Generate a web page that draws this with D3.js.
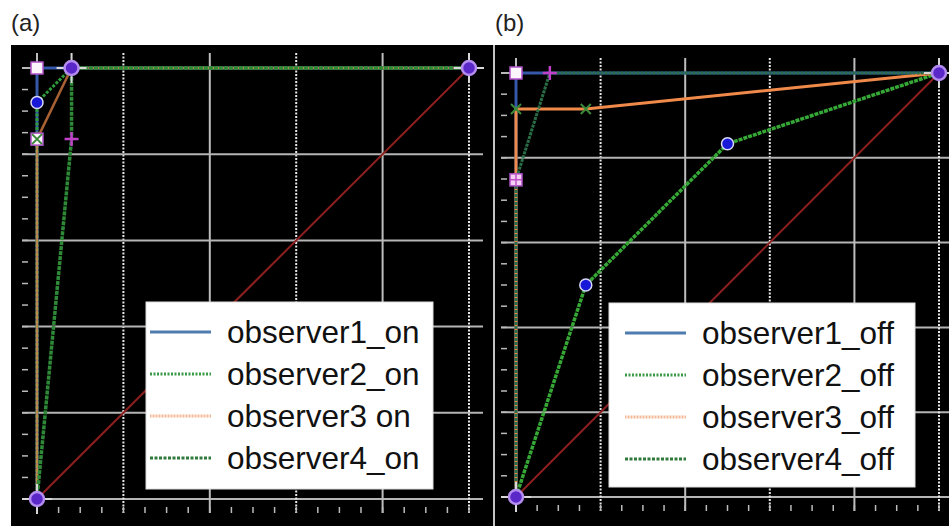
<!DOCTYPE html>
<html>
<head>
<meta charset="utf-8">
<script src="https://cdn.jsdelivr.net/npm/d3@7"></script>
<style>
  body { margin: 0; background: #fff; }
  text { font-family: "Liberation Sans", Arial, sans-serif; }
</style>
</head>
<body>
<div id="chart"></div>
<script>
// ROC points (false positive rate, true positive rate)
var gridTicks = [0, 0.2, 0.4, 0.6, 0.8, 1];
var minorTicks = d3.range(0, 1.0001, 0.05);

// panel (a) - "on"
var obs1OnFpr = [0, 0, 0.08, 1],    obs1OnTpr = [0, 1, 1, 1];
var obs2OnFpr = [0, 0, 0.08, 1],    obs2OnTpr = [0, 0.92, 1, 1];
var obs3OnFpr = [0, 0, 0.08, 1],    obs3OnTpr = [0, 0.835, 1, 1];
var obs4OnFpr = [0, 0.08, 0.08, 1], obs4OnTpr = [0, 0.835, 1, 1];
var onLabels = ["observer1_on", "observer2_on", "observer3 on", "observer4_on"];

// panel (b) - "off"
var obs1OffFpr = [0, 0, 0.08, 1],      obs1OffTpr = [0, 1, 1, 1];
var obs2OffFpr = [0, 0.165, 0.5, 1],   obs2OffTpr = [0, 0.5, 0.833, 1];
var obs3OffFpr = [0, 0, 0.165, 1],     obs3OffTpr = [0, 0.915, 0.915, 1];
var obs4OffFpr = [0, 0, 0.08, 1],      obs4OffTpr = [0, 0.748, 1, 1];
var offLabels = ["observer1_off", "observer2_off", "observer3_off", "observer4_off"];

var chanceFpr = [0, 1], chanceTpr = [0, 1];

function zip(xs, ys) { return xs.map(function(x, i) { return {x: x, y: ys[i]}; }); }

var svg = d3.select("#chart").append("svg")
    .attr("width", 949).attr("height", 526);

svg.append("text").attr("x", 11).attr("y", 31).attr("font-size", 24).attr("fill", "#222").text("(a)");
svg.append("text").attr("x", 495).attr("y", 31).attr("font-size", 24).attr("fill", "#222").text("(b)");

function drawPanel(prop, series, labels, endMarkers) {
    svg.append("rect")
        .attr("x", prop.bg[0]).attr("y", prop.bg[1])
        .attr("width", prop.bg[2]).attr("height", prop.bg[3])
        .attr("fill", "#000");

    var x = d3.scaleLinear().domain([0, 1]).range(prop.xr);
    var y = d3.scaleLinear().domain([0, 1]).range(prop.yr);
    var g = svg.append("g");

    // grid
    gridTicks.forEach(function(t, i) {
        g.append("line")
            .attr("x1", prop.xr[0] - 15).attr("x2", prop.xr[1] + 14)
            .attr("y1", y(t)).attr("y2", y(t))
            .attr("stroke", "#b5b5b5").attr("stroke-width", 2);
        if (t > 0) {
            g.append("line")
                .attr("x1", x(t)).attr("x2", x(t))
                .attr("y1", prop.yr[1] - 15).attr("y2", prop.yr[0] + 14)
                .attr("stroke", i % 2 == 0 ? "#bdbdbd" : "#e8e8e8")
                .attr("stroke-width", 2)
                .attr("stroke-dasharray", i % 2 == 0 ? null : "2,1.5");
        }
    });
    g.append("line")
        .attr("x1", x(0)).attr("x2", x(0))
        .attr("y1", prop.yr[1] - 15).attr("y2", prop.yr[0] + 14)
        .attr("stroke", "#bdbdbd").attr("stroke-width", 2);

    // minor ticks
    minorTicks.forEach(function(t) {
        g.append("line")
            .attr("x1", prop.xr[0] - 15).attr("x2", prop.xr[0] - 9)
            .attr("y1", y(t)).attr("y2", y(t))
            .attr("stroke", "#bbb").attr("stroke-width", 1.5);
        g.append("line")
            .attr("x1", x(t)).attr("x2", x(t))
            .attr("y1", prop.yr[0] + 8).attr("y2", prop.yr[0] + 14)
            .attr("stroke", "#bbb").attr("stroke-width", 1.5);
    });

    var line = d3.line().x(function(d) { return x(d.x); }).y(function(d) { return y(d.y); });

    // chance diagonal
    g.append("path").datum(zip(chanceFpr, chanceTpr))
        .attr("d", line).attr("fill", "none")
        .attr("stroke", "#8e1f1f").attr("stroke-width", 2);

    series.forEach(function(s) {
        g.append("path").datum(s.pts)
            .attr("d", line).attr("fill", "none")
            .attr("stroke", s.color).attr("stroke-width", s.width)
            .attr("stroke-opacity", s.opacity || 1)
            .attr("stroke-dasharray", s.dash);
    });

    // markers
    function marker(type, px, py) {
        if (type == "square" || type == "xsquare" || type == "pinksquare") {
            g.append("rect").attr("x", px - 6).attr("y", py - 6).attr("width", 12).attr("height", 12)
                .attr("fill", type == "pinksquare" ? "#f4d0f4" : "#fbf4fb")
                .attr("stroke", "#b050c8").attr("stroke-width", 1.5);
            if (type == "pinksquare") {
                g.append("path").attr("d", "M" + (px - 6) + "," + py + "h12M" + px + "," + (py - 6) + "v12")
                    .attr("stroke", "#c050c8").attr("stroke-width", 1.5);
            }
        }
        if (type == "xsquare" || type == "x") {
            g.append("path").attr("d", "M" + (px - 5) + "," + (py - 5) + "l10,10M" + (px + 5) + "," + (py - 5) + "l-10,10")
                .attr("stroke", "#3a8a3a").attr("stroke-width", 2);
        }
        if (type == "circle") {
            g.append("circle").attr("cx", px).attr("cy", py).attr("r", 6)
                .attr("fill", "#1818d8").attr("stroke", "#d8d8f8").attr("stroke-width", 1.5);
        }
        if (type == "plus") {
            g.append("path").attr("d", "M" + (px - 7) + "," + py + "h14M" + px + "," + (py - 7) + "v14")
                .attr("stroke", "#c040c8").attr("stroke-width", 2.5);
        }
        if (type == "purple") {
            g.append("path").attr("d", "M" + (px - 15) + "," + py + "h30M" + px + "," + (py - 15) + "v30")
                .attr("stroke", "#d8d8d8").attr("stroke-width", 2);
            g.append("circle").attr("cx", px).attr("cy", py).attr("r", 7)
                .attr("fill", "#5a28c8").attr("stroke", "#b48cf0").attr("stroke-width", 2.5);
        }
    }
    endMarkers.forEach(function(m) { marker("purple", x(m[0]), y(m[1])); });
    series.forEach(function(s) {
        s.marks.forEach(function(m) { marker(m.type, x(s.pts[m.idx].x), y(s.pts[m.idx].y)); });
    });

    // legend
    var lg = prop.legend;
    svg.append("rect").attr("x", lg.x).attr("y", lg.y).attr("width", lg.w).attr("height", lg.h)
        .attr("fill", "#fff").attr("stroke", "#ddd");
    labels.forEach(function(lab, i) {
        var s = series[i];
        var ly = lg.y + 30 + i * 42;
        svg.append("line")
            .attr("x1", lg.x + lg.l0).attr("x2", lg.x + lg.l1)
            .attr("y1", ly).attr("y2", ly)
            .attr("stroke", s.legendColor).attr("stroke-width", 3)
            .attr("stroke-dasharray", s.legendDash);
        svg.append("text")
            .attr("x", lg.x + lg.tx).attr("y", ly + 11)
            .attr("font-size", 31.5).attr("fill", "#111")
            .text(lab);
    });
}

drawPanel(
    {bg: [11, 45, 482, 481], xr: [37, 469], yr: [499, 68],
     legend: {x: 146, y: 302, w: 287, h: 187, l0: 4, l1: 65, tx: 81}},
    [
        {pts: zip(obs1OnFpr, obs1OnTpr), color: "#3558a8", width: 3, dash: null,
         legendColor: "#4f7cb0", legendDash: null, marks: [{type: "square", idx: 1}]},
        {pts: zip(obs2OnFpr, obs2OnTpr), color: "#2f9a3a", width: 3, dash: "3,1.5",
         legendColor: "#3a9a48", legendDash: "2,1.5", marks: [{type: "circle", idx: 1}]},
        {pts: zip(obs3OnFpr, obs3OnTpr), color: "#f08a4a", width: 2.5, dash: null, opacity: 0.7,
         legendColor: "#f4b894", legendDash: "1,0.5", marks: [{type: "xsquare", idx: 1}]},
        {pts: zip(obs4OnFpr, obs4OnTpr), color: "#2f8a38", width: 3.5, dash: "4,1",
         legendColor: "#2f7a3a", legendDash: "3,1.5", marks: [{type: "plus", idx: 1}]}
    ],
    onLabels,
    [[0, 0], [1, 1], [0.08, 1]]
);

drawPanel(
    {bg: [495, 45, 454, 481], xr: [516, 939], yr: [497, 73],
     legend: {x: 609, y: 303, w: 306, h: 184, l0: 16, l1: 77, tx: 93}},
    [
        {pts: zip(obs1OffFpr, obs1OffTpr), color: "#3558a8", width: 3, dash: null,
         legendColor: "#4f7cb0", legendDash: null, marks: [{type: "square", idx: 1}]},
        {pts: zip(obs2OffFpr, obs2OffTpr), color: "#36a836", width: 3.5, dash: "4,1",
         legendColor: "#3a9a48", legendDash: "2,1.5", marks: [{type: "circle", idx: 1}, {type: "circle", idx: 2}]},
        {pts: zip(obs3OffFpr, obs3OffTpr), color: "#f08a4a", width: 3, dash: null,
         legendColor: "#f4b894", legendDash: "1,0.5", marks: [{type: "x", idx: 1}, {type: "x", idx: 2}]},
        {pts: zip(obs4OffFpr, obs4OffTpr), color: "#2a6e48", width: 3, dash: "3,1",
         legendColor: "#2f7a3a", legendDash: "3,1.5", marks: [{type: "pinksquare", idx: 1}, {type: "plus", idx: 2}]}
    ],
    offLabels,
    [[0, 0], [1, 1]]
);

// thin divider between the two panels
svg.append("line").attr("x1", 494).attr("x2", 494).attr("y1", 45).attr("y2", 526)
    .attr("stroke", "#888").attr("stroke-width", 1);
</script>
</body>
</html>
